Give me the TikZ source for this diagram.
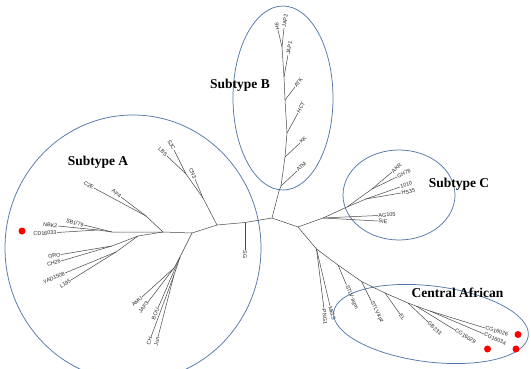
\documentclass[tikz,border=0pt]{standalone}
\usepackage{fontspec}
\setmainfont{Liberation Serif}
\setsansfont{Liberation Sans}
\definecolor{ringblue}{RGB}{84,120,170}
\begin{document}
\begin{tikzpicture}[x=1pt,y=-1pt,
  br/.style={draw=black!72, line width=0.5pt},
  grp/.style={draw=ringblue, line width=0.75pt},
  lab/.style={font=\sffamily\fontsize{5.4}{5.6}\selectfont, text=black!85, inner sep=0.4pt},
  ttl/.style={font=\bfseries\fontsize{13.5}{15}\selectfont, inner sep=0pt},
  reddot/.style={circle, fill=red, draw=none, minimum size=7pt, inner sep=0pt}]

\fill[white] (0,0) rectangle (531,369);
\useasboundingbox (0,0) rectangle (531,369);

% ---------- clade outlines ----------
\draw[grp] (133,248) ellipse [x radius=128, y radius=133];
\draw[grp] (283,98) ellipse [x radius=50, y radius=92];
\draw[grp] (399,195) ellipse [x radius=56, y radius=45];
\draw[grp, rotate around={-7:(431,324)}] (431,324) ellipse [x radius=98, y radius=38];

% ---------- tree: junctions and tips ----------
\coordinate (r) at (272,218);
% subtype B
\coordinate (b0) at (279,191);
\coordinate (b1) at (281,186);
\coordinate (b2) at (285,157);
\coordinate (b3) at (287,133);
\coordinate (b4) at (285,100);
\coordinate (b5) at (284,77);
\coordinate (b6) at (282,47);
\coordinate (tATM) at (297,171);
\coordinate (tKK) at (300,143);
\coordinate (tHCT) at (298,113);
\coordinate (tATK) at (295,87);
\coordinate (tJAPa) at (288,55);
\coordinate (tHsix) at (278,30);
\coordinate (tJAPb) at (284,28);
% subtype A
\coordinate (a1) at (245,222.5);
\coordinate (tSG) at (245,250);
\coordinate (a2) at (217,225);
\coordinate (a3) at (203,198);
\coordinate (a3b) at (186,174);
\coordinate (tLBS) at (167,156);
\coordinate (tSJC) at (174,150);
\coordinate (tCN) at (195,179);
\coordinate (a4) at (192,233);
\coordinate (a5) at (163,232);
\coordinate (a6) at (146,216);
\coordinate (tCtwo) at (94,188);
\coordinate (tAP) at (121,197);
\coordinate (a8) at (112,232);
\coordinate (tSB) at (84,225);
\coordinate (a9) at (98,230);
\coordinate (tNBK) at (58,226);
\coordinate (tCD) at (57,232.5);
\coordinate (a7) at (138,236);
\coordinate (a10) at (112,246);
\coordinate (tGRO) at (61,254.5);
\coordinate (tCHtw) at (61,261);
\coordinate (a11) at (116,252);
\coordinate (tYAD) at (65,273);
\coordinate (tL) at (71,280);
\coordinate (a12) at (180,257);
\coordinate (a13) at (174,268);
\coordinate (a14) at (174,275);
\coordinate (tAMU) at (142,297);
\coordinate (tJAPc) at (148,302);
\coordinate (tBOU) at (158,308);
\coordinate (tCH) at (151,337);
\coordinate (tJun) at (158,337);
% subtype C
\coordinate (c0) at (298,227);
\coordinate (c1) at (323,218);
\coordinate (tAG) at (378,215.5);
\coordinate (tSIE) at (378,221);
\coordinate (c2) at (347,207);
\coordinate (c3) at (372,189);
\coordinate (tAKR) at (392,172);
\coordinate (tGH) at (397,177);
\coordinate (c4) at (366,199);
\coordinate (tTen) at (400,187);
\coordinate (tHS) at (401,193);
% central african
\coordinate (d1) at (316.5,249);
\coordinate (tMEL) at (330,306);
\coordinate (tPNG) at (324,309);
\coordinate (d2) at (338,265);
\coordinate (tAGM) at (346.5,285);
\coordinate (d3) at (361.5,281.5);
\coordinate (tKPZ) at (371.5,301.5);
\coordinate (d4) at (385,293);
\coordinate (tEL) at (400,314);
\coordinate (d5) at (408,303);
\coordinate (tGB) at (428,322);
\coordinate (d6) at (416,306);
\coordinate (tCGa) at (455,330);
\coordinate (d7) at (430,311);
\coordinate (tCGb) at (485,328);
\coordinate (tCGc) at (484,334);

% ---------- branches ----------
% B
\draw[br] (r) -- (b0) -- (b1) -- (b2) -- (b3) -- (b4) -- (b5) -- (b6);
\draw[br] (b1) -- (tATM);
\draw[br] (b2) -- (tKK);
\draw[br] (b3) -- (tHCT);
\draw[br] (b4) -- (tATK);
\draw[br] (b5) -- (tJAPa);
\draw[br] (b6) -- (tHsix);
\draw[br] (b6) -- (tJAPb);
% A
\draw[br] (r) -- (a1) -- (a2) -- (a4) -- (a5) -- (a8) -- (a9) -- (tNBK);
\draw[br] (a9) -- (tCD);
\draw[br] (a8) -- (tSB);
\draw[br] (a1) -- (tSG);
\draw[br] (a2) -- (a3) -- (a3b) -- (tLBS);
\draw[br] (a3b) -- (tSJC);
\draw[br] (a3) -- (tCN);
\draw[br] (a5) -- (a6) -- (tCtwo);
\draw[br] (a6) -- (tAP);
\draw[br] (a5) -- (a7) -- (a10) -- (tGRO);
\draw[br] (a10) -- (tCHtw);
\draw[br] (a7) -- (a11) -- (tYAD);
\draw[br] (a11) -- (tL);
\draw[br] (a4) -- (a12) -- (a13) -- (tAMU);
\draw[br] (a13) -- (tJAPc);
\draw[br] (a12) -- (tBOU);
\draw[br] (a12) -- (a14) -- (tCH);
\draw[br] (a14) -- (tJun);
% C
\draw[br] (r) -- (c0) -- (c1) -- (tAG);
\draw[br] (c1) -- (tSIE);
\draw[br] (c1) -- (c2) -- (c3) -- (tAKR);
\draw[br] (c3) -- (tGH);
\draw[br] (c2) -- (c4) -- (tTen);
\draw[br] (c4) -- (tHS);
% Central African
\draw[br] (c0) -- (d1) -- (d2) -- (d3) -- (d4) -- (d5) -- (d6) -- (d7) -- (tCGb);
\draw[br] (d7) -- (tCGc);
\draw[br] (d6) -- (tCGa);
\draw[br] (d5) -- (tGB);
\draw[br] (d4) -- (tEL);
\draw[br] (d3) -- (tKPZ);
\draw[br] (d2) -- (tAGM);
\draw[br] (d1) -- (tMEL);
\draw[br] (d1) -- (tPNG);

% ---------- tip labels ----------
% B
\node[lab, anchor=west, rotate=43] (lATM) at (tATM) {ATM};
\node[lab, anchor=west, rotate=43] (lKK) at (tKK) {KK};
\node[lab, anchor=west, rotate=61] (lHCT) at (tHCT) {HCT};
\node[lab, anchor=west, rotate=52] (lATK) at (tATK) {ATK};
\node[lab, anchor=west, rotate=80] (lJAPa) at (tJAPa) {JAP1};
\node[lab, anchor=west, rotate=102] (lHsix) at (tHsix) {H6};
\node[lab, anchor=west, rotate=82] (lJAPb) at (tJAPb) {JAP2};
% A
\node[lab, anchor=west, rotate=-90] (lSG) at (tSG) {SG};
\node[lab, anchor=east, rotate=-44] (lLBS) at (tLBS) {LBS};
\node[lab, anchor=east, rotate=-63] (lSJC) at (tSJC) {SJC};
\node[lab, anchor=east, rotate=-67] (lCN) at (tCN) {CN3};
\node[lab, anchor=east, rotate=-28] (lCtwo) at (tCtwo) {C2E};
\node[lab, anchor=east, rotate=-37] (lAP) at (tAP) {AP4};
\node[lab, anchor=east, rotate=-14] (lSB) at (tSB) {SB1/79};
\node[lab, anchor=east, rotate=-5] (lNBK) at (tNBK) {NBK2};
\node[lab, anchor=east, rotate=3] (lCD) at (tCD) {CD16033};
\node[lab, anchor=east, rotate=9] (lGRO) at (tGRO) {GRO};
\node[lab, anchor=east, rotate=17] (lCHtw) at (tCHtw) {CH26};
\node[lab, anchor=east, rotate=24] (lYAD) at (tYAD) {YAD1508};
\node[lab, anchor=east, rotate=32] (lL) at (tL) {L195};
\node[lab, anchor=east, rotate=42] (lAMU) at (tAMU) {AMU};
\node[lab, anchor=east, rotate=52] (lJAPc) at (tJAPc) {JAP3};
\node[lab, anchor=east, rotate=67] (lBOU) at (tBOU) {BOU};
\node[lab, anchor=east, rotate=70] (lCH) at (tCH) {CH};
\node[lab, anchor=east, rotate=77] (lJun) at (tJun) {Jun};
% C
\node[lab, anchor=west, rotate=40] (lAKR) at (tAKR) {AKR};
\node[lab, anchor=west, rotate=26] (lGH) at (tGH) {GH78};
\node[lab, anchor=west, rotate=20] (lTen) at (tTen) {1010};
\node[lab, anchor=west, rotate=10] (lHS) at (tHS) {HS35};
\node[lab, anchor=west, rotate=4] (lAG) at (tAG) {AG105};
\node[lab, anchor=west, rotate=-4] (lSIE) at (tSIE) {SIE};
% Central African
\node[lab, anchor=west, rotate=-74] (lMEL) at (tMEL) {MEL5};
\node[lab, anchor=west, rotate=-84] (lPNG) at (tPNG) {PNG1};
\node[lab, anchor=west, rotate=-67] (lAGM) at (tAGM) {STLV-agm};
\node[lab, anchor=west, rotate=-63] (lKPZ) at (tKPZ) {STLV-kpz};
\node[lab, anchor=west, rotate=-54] (lEL) at (tEL) {EL};
\node[lab, anchor=west, rotate=-43] (lGB) at (tGB) {GB233};
\node[lab, anchor=west, rotate=-31] (lCGa) at (tCGa) {CG16029};
\node[lab, anchor=west, rotate=-15] (lCGb) at (tCGb) {CG16026};
\node[lab, anchor=west, rotate=-24] (lCGc) at (tCGc) {CG16034};

% ---------- markers ----------
\node[reddot] (m1) at (22,231) {};
\node[reddot] (m2) at (518,334.5) {};
\node[reddot] (m3) at (487.5,349) {};
\node[reddot] (m4) at (516,349) {};

% ---------- clade titles ----------
\node[ttl] (tA) at (98,162) {Subtype A};
\node[ttl] (tB) at (240,85) {Subtype B};
\node[ttl] (tC) at (459,184) {Subtype C};
\node[ttl] (tD) at (457.5,293) {Central African};
\end{tikzpicture}
\end{document}
